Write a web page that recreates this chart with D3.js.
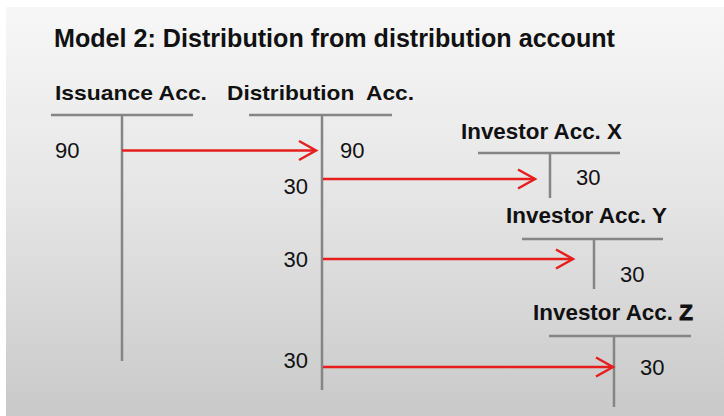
<!DOCTYPE html>
<html>
<head>
<meta charset="utf-8">
<script src="https://cdnjs.cloudflare.com/ajax/libs/d3/7.8.5/d3.min.js"></script>
<style>
  html, body { margin: 0; padding: 0; background: #fff; }
  svg { display: block; font-family: "Liberation Sans", Arial, sans-serif; }
</style>
</head>
<body>
<div id="sandbox"></div>
<script>
// Chart data
var title = 'Model 2: Distribution from distribution account';
var accountNames = ['Issuance Acc.', 'Distribution  Acc.', 'Investor Acc. X', 'Investor Acc. Y', 'Investor Acc. Z'];
var issuanceDebit = [90];
var distributionCredit = [90];
var distributionDebits = [30, 30, 30];
var investorCredits = [30, 30, 30];

// Layout of each T-account (pixels on the page)
var tLayout = [
  {x1: 51,  x2: 193, y: 115, mid: 122, bottom: 361, lx: 55,  ly: 100, lw: 152, fs: 21},
  {x1: 249, x2: 392, y: 115, mid: 322, bottom: 390, lx: 227, ly: 100, lw: 187, fs: 21},
  {x1: 478, x2: 620, y: 153, mid: 550, bottom: 198, lx: 461, ly: 139, lw: 161, fs: 22},
  {x1: 522, x2: 663, y: 239, mid: 594, bottom: 289, lx: 506, ly: 223, lw: 161, fs: 22},
  {x1: 549, x2: 691, y: 336, mid: 614, bottom: 407, lx: 533, ly: 320, lw: 160, fs: 22}
];
// Row positions of the entries (vertical centres)
var debitRows = [186, 259, 360];
var investorRows = [177, 274, 367];
var arrowRows = [179, 259, 367];
// how far each arrow tip stops short of the target account's line
var arrowGaps = [15, 21, 1];

var width = 724, height = 416;
var red = '#e61e1e', grey = '#858585';

var svg = d3.select('#sandbox').append('svg')
  .attr('width', width).attr('height', height);

// background panel with a soft grey gradient
var grad = svg.append('defs').append('linearGradient')
  .attr('id', 'bg').attr('x1', 0).attr('y1', 0).attr('x2', 0).attr('y2', 1);
grad.append('stop').attr('offset', '0%').attr('stop-color', '#f7f7f7');
grad.append('stop').attr('offset', '45%').attr('stop-color', '#e6e6e6');
grad.append('stop').attr('offset', '100%').attr('stop-color', '#c9c9c9');
svg.append('rect').attr('x', 6).attr('y', 7).attr('width', width - 6).attr('height', height - 7)
  .attr('fill', 'url(#bg)');

// title
svg.append('text').text(title)
  .attr('x', 54).attr('y', 47)
  .attr('textLength', 561).attr('lengthAdjust', 'spacingAndGlyphs')
  .style('font-size', '26px').style('font-weight', 'bold').style('fill', '#111');

// T-accounts
var accts = svg.selectAll('g.acct').data(d3.zip(accountNames, tLayout)).enter()
  .append('g').attr('class', 'acct');

accts.append('line')
  .attr('x1', function(d) { return d[1].x1; }).attr('x2', function(d) { return d[1].x2; })
  .attr('y1', function(d) { return d[1].y; }).attr('y2', function(d) { return d[1].y; })
  .style('stroke', grey).style('stroke-width', 2.5);

accts.append('line')
  .attr('x1', function(d) { return d[1].mid; }).attr('x2', function(d) { return d[1].mid; })
  .attr('y1', function(d) { return d[1].y; }).attr('y2', function(d) { return d[1].bottom; })
  .style('stroke', grey).style('stroke-width', 2.5);

var labels = accts.append('text')
  .attr('x', function(d) { return d[1].lx; }).attr('y', function(d) { return d[1].ly; })
  .attr('textLength', function(d) { return d[1].lw; }).attr('lengthAdjust', 'spacingAndGlyphs')
  .style('font-size', function(d) { return d[1].fs + 'px'; })
  .style('font-weight', 'bold').style('fill', '#111')
  .style('white-space', 'pre');
// last letter of the "Z" account is drawn heavier in the original
labels.append('tspan').text(function(d, i) { return i === 4 ? d[0].slice(0, -1) : d[0]; });
labels.filter(function(d, i) { return i === 4; }).append('tspan')
  .text(function(d) { return d[0].slice(-1); })
  .style('stroke', '#111').style('stroke-width', 0.8);

// entry amounts
var numStyle = function(sel) {
  sel.style('font-size', '22px').style('fill', '#111').attr('dominant-baseline', 'central');
};
svg.append('text').text(issuanceDebit[0]).attr('x', 55).attr('y', 150).call(numStyle);
svg.append('text').text(distributionCredit[0]).attr('x', 340).attr('y', 150).call(numStyle);

svg.selectAll('text.deb').data(distributionDebits).enter().append('text')
  .attr('class', 'deb').text(function(d) { return d; })
  .attr('x', 308).attr('text-anchor', 'end')
  .attr('y', function(d, i) { return debitRows[i]; }).call(numStyle);

svg.selectAll('text.inv').data(investorCredits).enter().append('text')
  .attr('class', 'inv').text(function(d) { return d; })
  .attr('x', function(d, i) { return tLayout[i + 2].mid + 26; })
  .attr('y', function(d, i) { return investorRows[i]; }).call(numStyle);

// arrows: issuance -> distribution, then distribution -> each investor
var arrows = [{from: tLayout[0].mid, to: tLayout[1].mid - 6, y: 150.5}];
arrowRows.forEach(function(y, i) {
  arrows.push({from: tLayout[1].mid + 1, to: tLayout[i + 2].mid - arrowGaps[i], y: y});
});

var ag = svg.selectAll('g.arrow').data(arrows).enter().append('g').attr('class', 'arrow');
ag.append('line')
  .attr('x1', function(d) { return d.from; }).attr('x2', function(d) { return d.to; })
  .attr('y1', function(d) { return d.y; }).attr('y2', function(d) { return d.y; })
  .style('stroke', red).style('stroke-width', 2.5);
ag.append('path')
  .attr('d', function(d) {
    return 'M' + (d.to - 17) + ',' + (d.y - 9.5) + 'L' + d.to + ',' + d.y + 'L' + (d.to - 17) + ',' + (d.y + 9.5);
  })
  .style('fill', 'none').style('stroke', red).style('stroke-width', 2.5);
</script>
</body>
</html>
